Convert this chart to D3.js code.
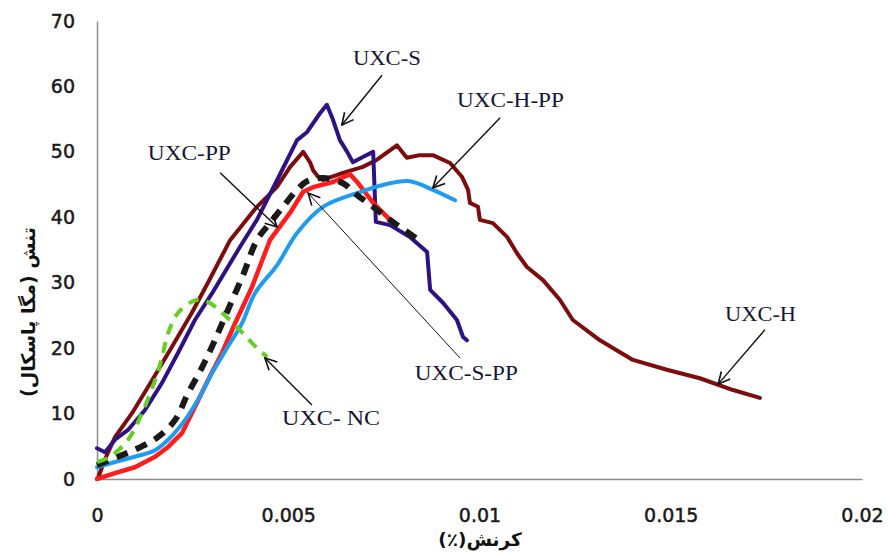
<!DOCTYPE html>
<html>
<head>
<meta charset="utf-8">
<script src="https://cdn.jsdelivr.net/npm/d3@7"></script>
<style>
  body { margin: 0; background: #fff; }
</style>
</head>
<body>
<svg id="chart"></svg>
<script>
// Stress-strain curves, values: [strain, stress MPa]

const uxcH = [
  [0.00003, 0.2], [0.0002, 2.9], [0.00047, 6.4], [0.00092, 10.1], [0.00144, 15.1],
  [0.00196, 20.2], [0.00248, 25.4], [0.0029, 30.0], [0.00348, 36.5], [0.00418, 41.6],
  [0.0047, 44.6], [0.00505, 47.7], [0.00539, 50.0], [0.00557, 48.4], [0.00565, 47.2],
  [0.00578, 46.2], [0.00591, 45.7], [0.00643, 46.8], [0.00695, 47.7], [0.00732, 48.8],
  [0.00784, 51.0], [0.0081, 49.1], [0.00844, 49.5], [0.00878, 49.5], [0.00923, 48.3],
  [0.00954, 46.2], [0.0097, 44.2], [0.00975, 42.2], [0.00996, 41.6], [0.01001, 39.6],
  [0.01035, 39.1], [0.01072, 37.0], [0.01098, 34.5], [0.01124, 32.4], [0.01166, 30.4],
  [0.0121, 27.4], [0.01244, 24.3], [0.01315, 21.2], [0.01401, 18.2], [0.0149, 16.7],
  [0.01576, 15.4], [0.01663, 13.6], [0.01733, 12.4]
];

const uxcS = [
  [0, 4.7], [0.00021, 4.1], [0.00047, 6.0], [0.00081, 7.5], [0.00125, 10.5],
  [0.0017, 14.7], [0.00212, 19.3], [0.00256, 24.3], [0.00301, 28.4], [0.00374, 35.5],
  [0.00418, 39.6], [0.00471, 45.7], [0.00523, 51.8], [0.00549, 53.0], [0.00583, 55.9],
  [0.00601, 57.2], [0.00617, 54.9], [0.00635, 51.8], [0.00654, 50.0], [0.00669, 48.4],
  [0.00695, 49.2], [0.00722, 50.0], [0.00729, 39.3], [0.00766, 38.8], [0.00818, 37.0],
  [0.00863, 34.7], [0.00871, 28.9], [0.00905, 26.9], [0.00941, 24.3], [0.00957, 21.7],
  [0.00967, 21.2]
];

const uxcPP = [
  [0, 0], [0.00047, 0.9], [0.00099, 1.8], [0.00152, 3.4], [0.00186, 4.9],
  [0.00222, 7.0], [0.00256, 11.0], [0.0029, 15.1], [0.00327, 19.3], [0.00361, 23.8],
  [0.00405, 29.3], [0.00452, 36.5], [0.00505, 40.7], [0.00539, 43.9], [0.00565, 44.6],
  [0.00617, 45.4], [0.00661, 46.6], [0.0068, 45.4], [0.00722, 42.2], [0.00766, 39.6]
];

const uxcHPP = [
  [0, 1.8], [0.00047, 2.6], [0.00099, 3.4], [0.00152, 4.4], [0.00186, 6.0],
  [0.0023, 9.0], [0.00264, 12.1], [0.00301, 16.2], [0.00342, 20.2], [0.00379, 23.8],
  [0.00413, 28.4], [0.00471, 32.7], [0.00523, 37.6], [0.00591, 41.6], [0.0068, 43.7],
  [0.00766, 45.2], [0.00818, 45.5], [0.00878, 44.2], [0.00936, 42.6]
];

const uxcSPP = [
  [0, 2.1], [0.00055, 3.4], [0.00107, 4.7], [0.00159, 6.4], [0.00204, 9.0],
  [0.00238, 13.1], [0.00275, 17.1], [0.00308, 21.2], [0.00342, 25.8], [0.00382, 31.2],
  [0.00418, 36.5], [0.00452, 39.1], [0.00486, 41.6], [0.00523, 44.2], [0.00549, 45.5],
  [0.00591, 46.0], [0.00643, 45.2], [0.0068, 43.4], [0.00722, 41.6], [0.00766, 39.6],
  [0.00837, 36.7]
];

const uxcNC = [
  [0, 2.6], [0.00034, 3.4], [0.00081, 6.0], [0.00118, 10.1], [0.00152, 15.1],
  [0.0017, 18.6], [0.00186, 22.3], [0.00212, 25.4], [0.00248, 27.1], [0.00269, 27.4],
  [0.00295, 26.9], [0.00327, 25.4], [0.00366, 23.2], [0.00405, 20.8], [0.00445, 18.6]
];

// Tick values
const xTicks = [0, 0.005, 0.01, 0.015, 0.02];
const xTickLabels = ["0", "0.005", "0.01", "0.015", "0.02"];
const yTicks = [0, 10, 20, 30, 40, 50, 60, 70];

// Callout labels: text, text anchor [strain, stress], arrow tail, arrow tip
const labelNames = ["UXC-S", "UXC-H-PP", "UXC-PP", "UXC-S-PP", "UXC- NC", "UXC-H"];
const labelAt   = [[0.00669, 63.3], [0.00941, 56.9], [0.00133, 48.8], [0.00831, 15.1], [0.00484, 8.3], [0.01642, 24.1]];
const arrowFrom = [[0.00745, 61.7], [0.01054, 55.2], [0.00322, 46.8], [0.00949, 18.5], [0.00562, 11.3], [0.01746, 22.8]];
const arrowTo   = [[0.0064, 54.1], [0.00878, 44.5], [0.00471, 38.5], [0.00552, 43.7], [0.00439, 18.5], [0.01624, 14.5]];

const width = 888, height = 553;

const svg = d3.select("#chart")
    .attr("width", width)
    .attr("height", height);

const x = d3.scaleLinear().domain([0, 0.02]).range([97, 862]);
const y = d3.scaleLinear().domain([0, 70]).range([479, 21]);

//Axes
const xAxis = svg.append("g")
    .attr("transform", `translate(0,${y(0)})`)
    .call(d3.axisBottom(x).tickValues(xTicks)
        .tickFormat((d, i) => xTickLabels[i])
        .tickSize(0).tickPadding(30));

const yAxis = svg.append("g")
    .attr("transform", `translate(${x(0)},0)`)
    .call(d3.axisLeft(y).tickValues(yTicks).tickSize(0).tickPadding(22));

[xAxis, yAxis].forEach(a => {
  a.select(".domain").attr("stroke", "#8c8c8c").attr("stroke-width", 1.5);
  a.selectAll("text")
      .attr("fill", "#1a1a1a")
      .attr("stroke", "#1a1a1a")
      .attr("stroke-width", 0.5)
      .style("font-family", '"DejaVu Sans", sans-serif')
      .style("font-size", "19px");
});

//Axis titles
svg.append("text")
    .attr("x", 480)
    .attr("y", 546)
    .attr("text-anchor", "middle")
    .attr("direction", "rtl")
    .style("font-family", '"DejaVu Sans", sans-serif')
    .style("font-weight", "bold")
    .style("font-size", "18.5px")
    .attr("fill", "#111")
    .text("کرنش(٪)");

svg.append("text")
    .attr("transform", "translate(35,312) rotate(-90)")
    .attr("text-anchor", "middle")
    .attr("direction", "rtl")
    .style("font-family", '"DejaVu Sans", sans-serif')
    .style("font-weight", "bold")
    .style("font-size", "19px")
    .attr("fill", "#111")
    .text("تنش (مگا پاسکال)");

//Curves
const series = [
  {data: uxcH,   color: "#7d0c0c", dash: null,   width: 4, curve: d3.curveLinear},
  {data: uxcS,   color: "#2e1283", dash: null,   width: 4, curve: d3.curveLinear},
  {data: uxcPP,  color: "#ff1c1c", dash: null,   width: 4.5, curve: d3.curveLinear},
  {data: uxcHPP, color: "#1e9cf2", dash: null,   width: 4, curve: d3.curveCatmullRom},
  {data: uxcSPP, color: "#1a1a1a", dash: "12,9", width: 6, curve: d3.curveCatmullRom},
  {data: uxcNC,  color: "#62cf22", dash: "11,8", width: 4, curve: d3.curveCatmullRom}
];

svg.append("g")
    .selectAll("path")
    .data(series)
    .join("path")
    .attr("fill", "none")
    .attr("stroke", d => d.color)
    .attr("stroke-width", d => d.width)
    .attr("stroke-dasharray", d => d.dash)
    .attr("stroke-linejoin", "round")
    .attr("stroke-linecap", d => d.dash ? "butt" : "round")
    .attr("d", d => d3.line().x(p => x(p[0])).y(p => y(p[1])).curve(d.curve)(d.data));

//Open arrowhead marker
svg.append("defs").append("marker")
    .attr("id", "arrow")
    .attr("viewBox", "0 0 12 12")
    .attr("refX", 11)
    .attr("refY", 6)
    .attr("markerWidth", 14)
    .attr("markerHeight", 14)
    .attr("markerUnits", "userSpaceOnUse")
    .attr("orient", "auto")
    .append("path")
    .attr("d", "M1,1L11,6L1,11")
    .attr("fill", "none")
    .attr("stroke", "#111")
    .attr("stroke-width", 1.4);

//Callouts
const callouts = labelNames.map((name, i) => ({name, at: labelAt[i], from: arrowFrom[i], to: arrowTo[i]}));

svg.append("g")
    .selectAll("line")
    .data(callouts)
    .join("line")
    .attr("x1", d => x(d.from[0]))
    .attr("y1", d => y(d.from[1]))
    .attr("x2", d => x(d.to[0]))
    .attr("y2", d => y(d.to[1]))
    .attr("stroke", "#111")
    .attr("stroke-width", d => d.name === "UXC-S-PP" ? 1 : 1.4)
    .attr("marker-end", "url(#arrow)");

const labelWidths = {"UXC-S": 68, "UXC-H-PP": 107, "UXC-PP": 83, "UXC-S-PP": 103, "UXC- NC": 98, "UXC-H": 71};

svg.append("g")
    .selectAll("text")
    .data(callouts)
    .join("text")
    .attr("x", d => x(d.at[0]))
    .attr("y", d => y(d.at[1]))
    .attr("textLength", d => labelWidths[d.name])
    .attr("lengthAdjust", "spacingAndGlyphs")
    .style("font-family", '"Liberation Serif", serif')
    .style("font-size", "20px")
    .attr("fill", "#151535")
    .text(d => d.name);
</script>
</body>
</html>
